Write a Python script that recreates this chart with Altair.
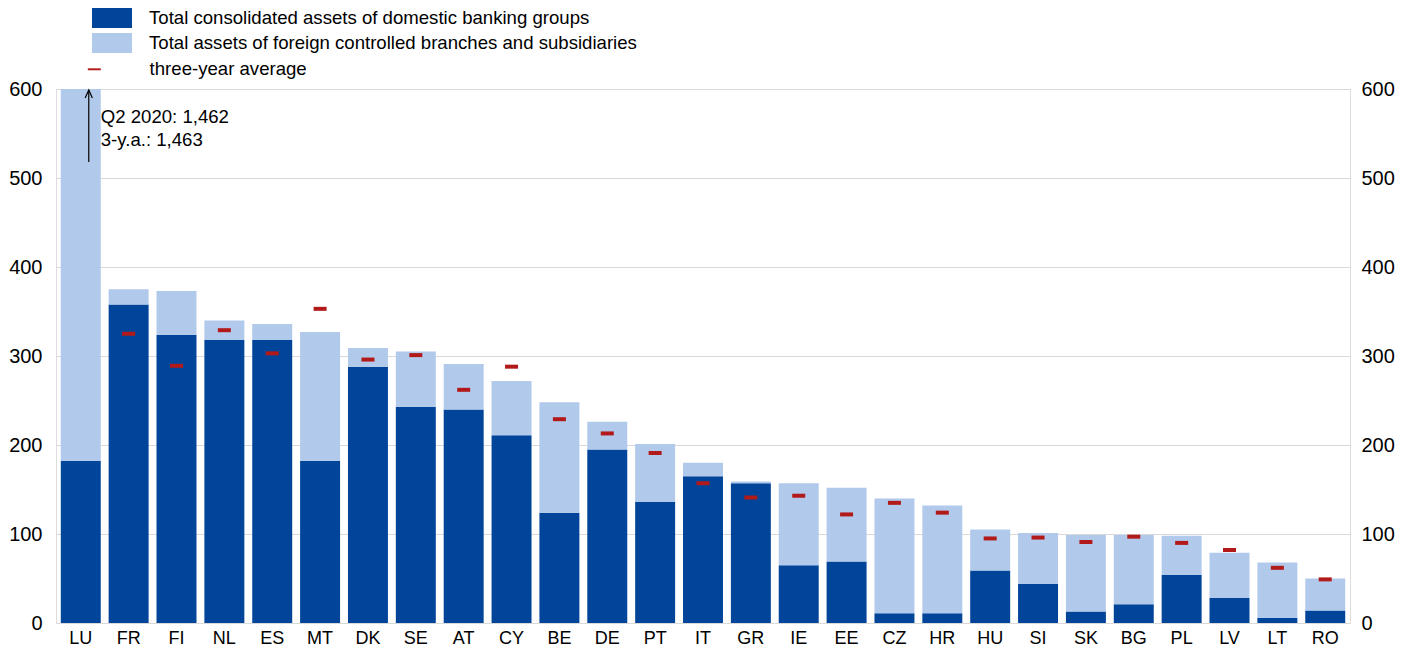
import altair as alt
import pandas as pd

countries = ["LU", "FR", "FI", "NL", "ES", "MT", "DK", "SE", "AT", "CY", "BE", "DE", "PT", "IT",
             "GR", "IE", "EE", "CZ", "HR", "HU", "SI", "SK", "BG", "PL", "LV", "LT", "RO"]
domestic = [182, 358, 324, 318, 318, 182, 288, 243, 240, 211, 124, 195, 136, 165,
            157, 65, 69, 11, 11, 59, 44, 13, 21, 54, 28, 6, 14]
foreign = [1280, 17, 49, 22, 18, 145, 21, 62, 51, 61, 124, 31, 65, 15,
           2, 92, 83, 129, 121, 46, 57, 86, 78, 44, 51, 62, 36]
three_year_avg = [1463, 325, 289, 329, 303, 353, 296, 301, 262, 288, 229, 213, 191, 157,
                  141, 143, 122, 135, 124, 95, 96, 91, 97, 90, 82, 62, 49]
y_ticks = [0, 100, 200, 300, 400, 500, 600]

S_DOM = "Total consolidated assets of domestic banking groups"
S_FOR = "Total assets of foreign controlled branches and subsidiaries"
S_AVG = "three-year average"
ANN_LINES = ["Q2 2020: 1,462", "3-y.a.: 1,463"]

DARK = "#00459a"
LIGHT = "#b1c9eb"
RED = "#b21a1a"
FONT = "Liberation Sans"
TXT = 18.6

rows = []
for i, c in enumerate(countries):
    rows.append({"country": c, "series": S_DOM, "value": domestic[i], "ord": 0})
    rows.append({"country": c, "series": S_FOR, "value": foreign[i], "ord": 1})
bars_df = pd.DataFrame(rows)
avg_df = pd.DataFrame({"country": countries, "avg": three_year_avg, "label": S_AVG})
arrow_df = pd.DataFrame({"country": ["LU"], "y1": [518], "y2": [599]})
text_df = pd.DataFrame({"country": ["LU", "LU"], "y": [568, 543], "t": ANN_LINES})

x_scale = alt.Scale(paddingInner=0.165, paddingOuter=0.1)
y_scale = alt.Scale(domain=[0, 600], nice=False)


def xenc():
    return alt.X("country:N", sort=countries, scale=x_scale,
                 axis=alt.Axis(title=None, labelAngle=0, ticks=False, domain=False,
                               labelFontSize=18, labelPadding=6, labelColor="#000",
                               labelFont=FONT, grid=False))


bars = alt.Chart(bars_df).mark_bar(clip=True).encode(
    x=xenc(),
    y=alt.Y("value:Q", stack="zero", scale=y_scale,
            axis=alt.Axis(title=None, orient="left", values=y_ticks, grid=True,
                          gridColor="#d9d9d9", gridWidth=1, ticks=False, domain=False,
                          labelFontSize=20, labelPadding=14, labelColor="#000", labelFont=FONT)),
    color=alt.Color("series:N",
                    scale=alt.Scale(domain=[S_DOM, S_FOR], range=[DARK, LIGHT]),
                    legend=alt.Legend(orient="none", legendX=46, legendY=-81, title=None,
                                      symbolType="M-2,-1H2V1H-2Z", symbolSize=400,
                                      symbolStrokeWidth=0, labelFontSize=TXT, labelFont=FONT,
                                      labelColor="#000", labelOffset=27, rowPadding=5,
                                      labelLimit=800)),
    order=alt.Order("ord:Q"),
)

ticks = alt.Chart(avg_df).mark_tick(clip=True, color=RED, size=13, thickness=4).encode(
    x=xenc(),
    y=alt.Y("avg:Q", scale=y_scale,
            axis=alt.Axis(title=None, orient="right", values=y_ticks, grid=False,
                          ticks=False, domain=False, labelFontSize=20, labelPadding=11,
                          labelColor="#000", labelFont=FONT)),
    opacity=alt.Opacity("label:N", scale=alt.Scale(domain=[S_AVG], range=[1]),
                        legend=alt.Legend(orient="none", legendX=29, legendY=-29, title=None,
                                          symbolType="M-1,-0.15H1V0.15H-1Z", symbolSize=169,
                                          symbolFillColor=RED, symbolStrokeWidth=0,
                                          labelFontSize=TXT, labelFont=FONT, labelColor="#000",
                                          labelOffset=46, labelLimit=800)),
)

arrow = alt.Chart(arrow_df).mark_rule(color="#000", strokeWidth=1.2, xOffset=8).encode(
    x=xenc(),
    y=alt.Y("y1:Q", scale=y_scale, axis=None),
    y2="y2:Q",
)

head = alt.Chart(arrow_df).mark_point(shape="M-0.45,1L0,0L0.45,1", filled=False, size=256,
                                      strokeWidth=1.2, color="#000", opacity=1,
                                      xOffset=8).encode(
    x=xenc(),
    y=alt.Y("y2:Q", scale=y_scale, axis=None),
)

ann = alt.Chart(text_df).mark_text(align="left", baseline="middle", fontSize=TXT, font=FONT,
                                   color="#000", dx=20).encode(
    x=xenc(),
    y=alt.Y("y:Q", scale=y_scale, axis=None),
    text="t:N",
)

chart = alt.layer(bars, ticks, arrow, head, ann).resolve_axis(y="independent").resolve_scale(
    opacity="independent", color="independent"
).properties(
    width=1294, height=534,
    padding={"left": 0, "top": 0, "right": 5, "bottom": 5},
).configure_view(stroke=None).configure(font=FONT)

chart.save("out.html", embed_options={"renderer": "svg", "actions": False})
